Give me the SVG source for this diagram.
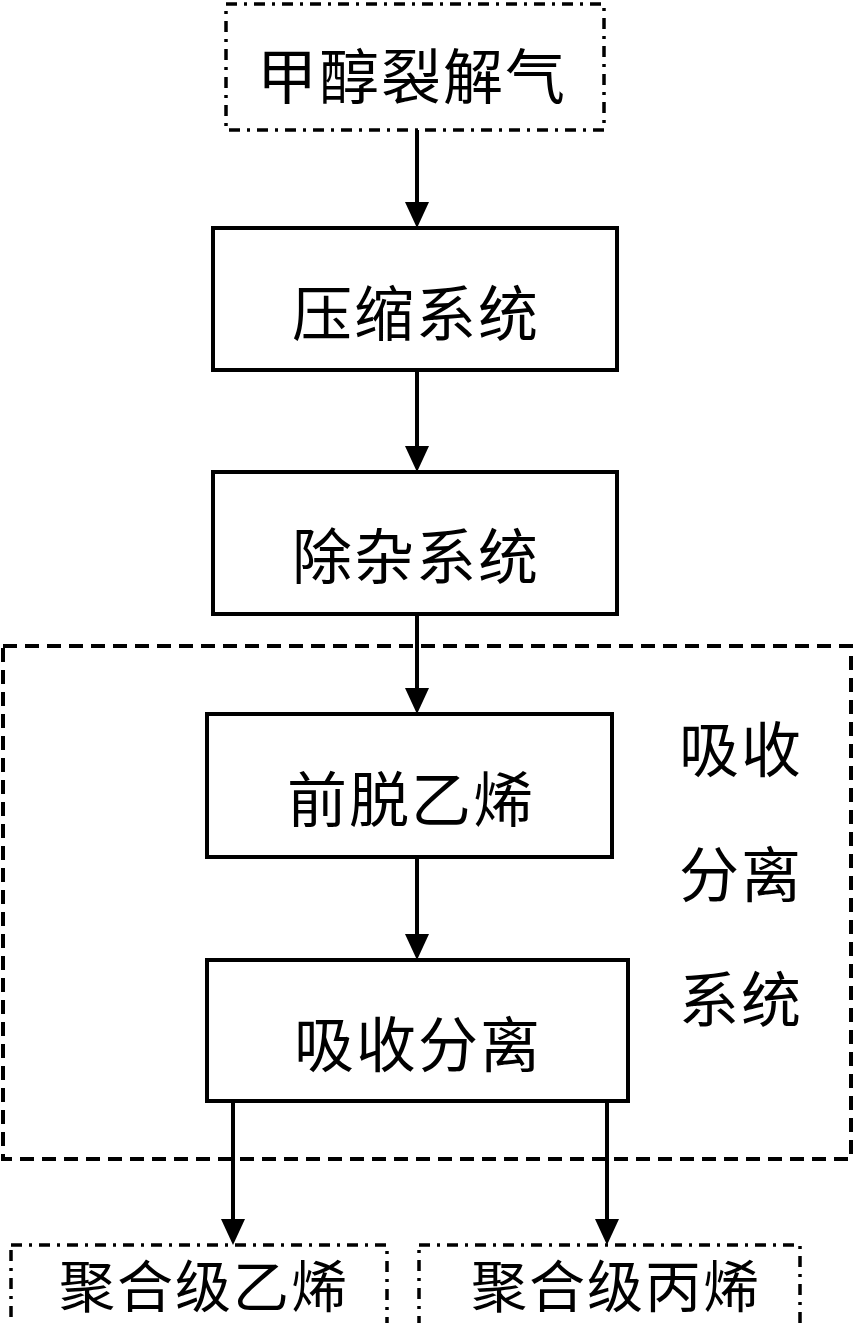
<svg xmlns="http://www.w3.org/2000/svg" width="854" height="1323" viewBox="0 0 854 1323">
<style>
.solid{fill:none;stroke:#000;stroke-width:4}
.dd{fill:none;stroke:#000;stroke-width:3.5;stroke-dasharray:11 7 3 7}
.dash{fill:none;stroke:#000;stroke-width:4;stroke-dasharray:14 8}
.t{font-family:"Noto Sans CJK SC","Liberation Serif",serif;font-size:60px;letter-spacing:2px;fill:#000;text-anchor:middle}
.b{font-size:56px}
.conn{stroke:#000;stroke-width:4;fill:none}
</style>
<rect width="854" height="1323" fill="#fff"/>
<g id="outer">
<rect class="dash" x="3" y="646" width="848" height="513"/>
<text class="t" x="741" y="772">吸收</text>
<text class="t" x="741" y="897">分离</text>
<text class="t" x="741" y="1022">系统</text>
</g>
<g id="connectors">
<line class="conn" x1="417" y1="130" x2="417" y2="204"/>
<path d="M405 202 L429 202 L417 228 Z"/>
<line class="conn" x1="417" y1="370" x2="417" y2="448"/>
<path d="M405 446 L429 446 L417 472 Z"/>
<line class="conn" x1="417" y1="614" x2="417" y2="690"/>
<path d="M405 688 L429 688 L417 714 Z"/>
<line class="conn" x1="417" y1="857" x2="417" y2="936"/>
<path d="M405 934 L429 934 L417 960 Z"/>
<line class="conn" x1="233" y1="1101" x2="233" y2="1221"/>
<path d="M221 1219 L245 1219 L233 1245 Z"/>
<line class="conn" x1="607" y1="1101" x2="607" y2="1221"/>
<path d="M595 1219 L619 1219 L607 1245 Z"/>
</g>
<g id="n1">
<rect class="dd" x="226" y="4" width="378" height="126"/>
<text class="t" x="412" y="99">甲醇裂解气</text>
</g>
<g id="n2">
<rect class="solid" x="213" y="228" width="404" height="142"/>
<text class="t" x="416" y="336">压缩系统</text>
</g>
<g id="n3">
<rect class="solid" x="213" y="472" width="404" height="142"/>
<text class="t" x="416" y="579">除杂系统</text>
</g>
<g id="n4">
<rect class="solid" x="207" y="714" width="405" height="143"/>
<text class="t" x="411" y="822">前脱乙烯</text>
</g>
<g id="n5">
<rect class="solid" x="207" y="960" width="421" height="141"/>
<text class="t" x="418" y="1067">吸收分离</text>
</g>
<g id="n6">
<rect class="dd" x="11" y="1245" width="376" height="80"/>
<text class="t b" x="204" y="1307">聚合级乙烯</text>
</g>
<g id="n7">
<rect class="dd" x="419" y="1245" width="381" height="80"/>
<text class="t b" x="616" y="1307">聚合级丙烯</text>
</g>
</svg>
